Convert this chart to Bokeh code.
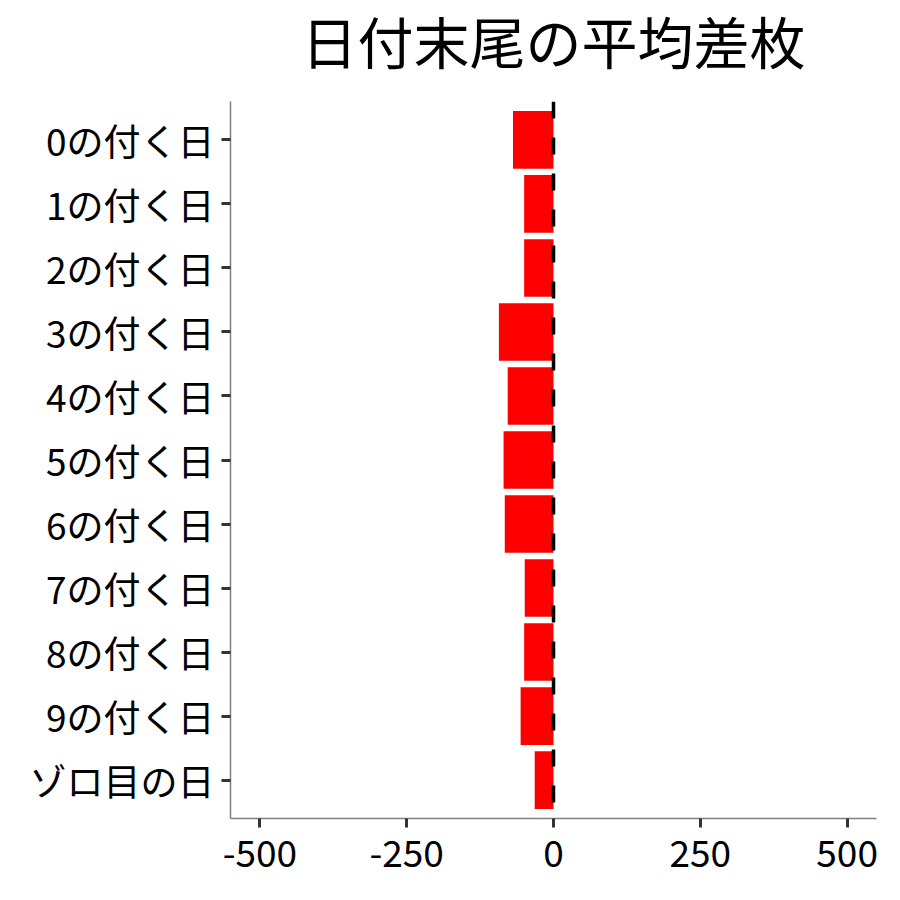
from bokeh.plotting import figure
from bokeh.layouts import column
from bokeh.models import Range1d, FactorRange, FixedTicker, Span
from bokeh.core.properties import value
from bokeh.embed import file_html
from bokeh.resources import INLINE

# data
categories = ["0の付く日", "1の付く日", "2の付く日", "3の付く日", "4の付く日",
              "5の付く日", "6の付く日", "7の付く日", "8の付く日", "9の付く日", "ゾロ目の日"]
values = [-69, -50, -50, -93, -78, -85, -83, -49, -50, -56, -32]
x_ticks = [-500, -250, 0, 250, 500]
x_tick_labels = ["-500", "-250", "0", "250", "500"]
title_text = "日付末尾の平均差枚"

FONT = "Noto Sans CJK JP"
X_MIN, X_MAX = -550, 550

# ---- title strip (its own small figure so the title can sit high above the frame)
t = figure(width=900, height=101, x_range=Range1d(X_MIN, X_MAX), y_range=Range1d(0, 1),
           output_backend="svg", toolbar_location=None,
           min_border_left=230, min_border_right=24, min_border_top=0, min_border_bottom=0)
t.text(x=[(X_MIN + X_MAX) / 2], y=[0.615], text=[title_text],
       text_font=value(FONT), text_font_size="56px", text_color="black",
       text_align="center", text_baseline="middle")
t.axis.visible = False
t.xgrid.visible = False
t.ygrid.visible = False
t.outline_line_color = None
t.border_fill_color = "white"
t.background_fill_color = "white"

# ---- main chart
p = figure(width=900, height=799,
           x_range=Range1d(X_MIN, X_MAX),
           y_range=FactorRange(factors=categories[::-1], range_padding=0.2 / len(categories)),
           output_backend="svg", toolbar_location=None,
           min_border_left=230, min_border_right=24, min_border_top=0, min_border_bottom=82)

p.hbar(y=categories, right=values, left=0, height=0.9, fill_color="#FF0000", line_color=None)

p.add_layout(Span(location=0, dimension="height", line_color="black",
                  line_width=3.5, line_dash="17 19"))

p.xgrid.visible = False
p.ygrid.visible = False
p.outline_line_color = None
p.background_fill_color = "white"
p.border_fill_color = "white"

p.xaxis.ticker = FixedTicker(ticks=x_ticks)
p.xaxis.major_label_overrides = {tk: s for tk, s in zip(x_ticks, x_tick_labels)}
for ax in (p.xaxis, p.yaxis):
    ax.axis_line_color = "#7f7f7f"
    ax.axis_line_width = 1.5
    ax.major_tick_line_color = "#333333"
    ax.major_tick_line_width = 3
    ax.major_tick_in = 0
    ax.major_tick_out = 9
    ax.minor_tick_line_color = None
    ax.major_label_text_font = FONT
    ax.major_label_text_font_size = "37px"
    ax.major_label_text_color = "black"
p.xaxis.major_label_standoff = 12
p.yaxis.major_label_standoff = 7

layout = column(t, p, spacing=0)
open("out.html", "w").write(file_html(layout, INLINE))
